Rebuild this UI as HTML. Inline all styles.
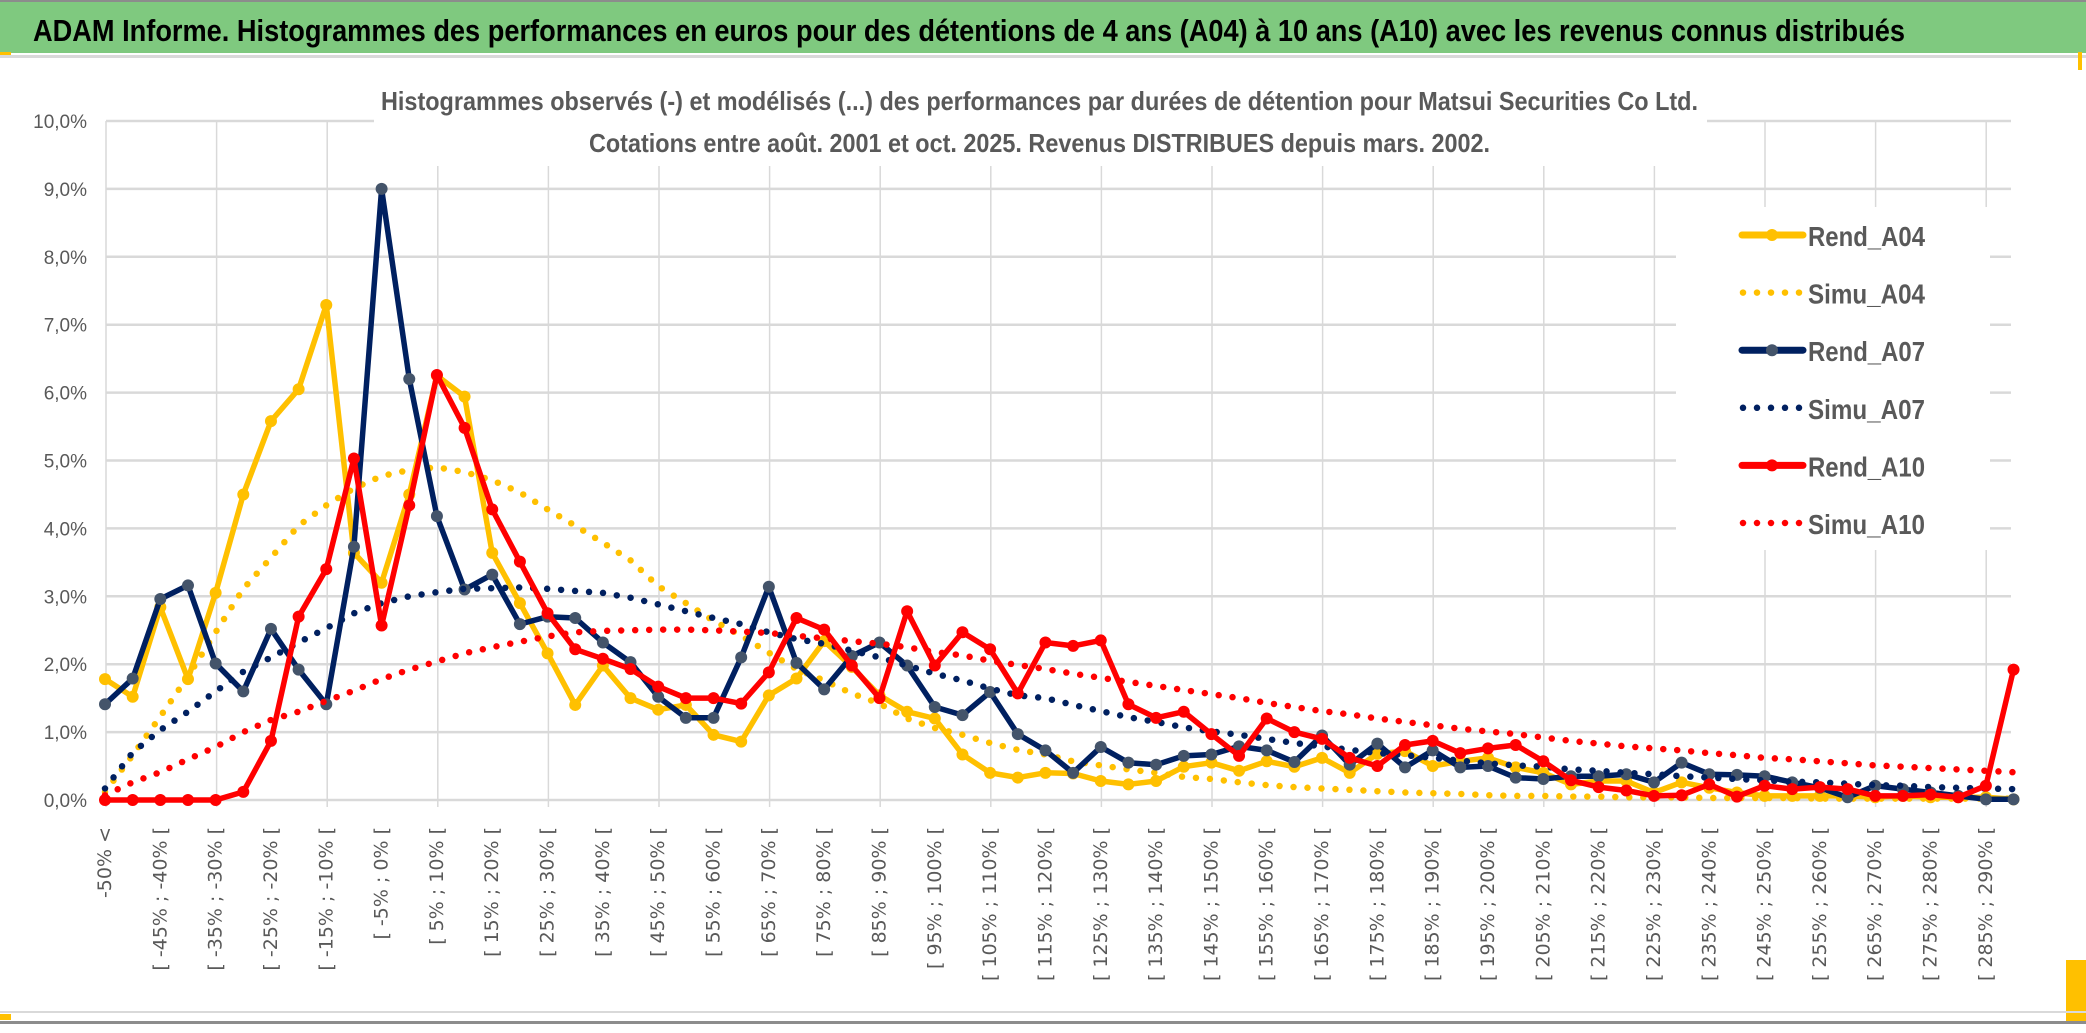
<!DOCTYPE html>
<html><head><meta charset="utf-8"><style>
html,body{margin:0;padding:0;background:#fff;}
svg{display:block;}
</style></head><body>
<svg id="chart" width="2086" height="1033" viewBox="0 0 2086 1033" xmlns="http://www.w3.org/2000/svg">
<rect x="0" y="0" width="2086" height="1033" fill="#fff"/>
<rect x="0" y="0" width="2086" height="2" fill="#8c8c8c"/>
<rect x="0" y="2" width="2086" height="51" fill="#7fc97f"/>
<rect x="0" y="55" width="2086" height="3" fill="#d9d9d9"/>
<rect x="0" y="52" width="11" height="3" fill="#ffc000"/>
<rect x="2078" y="52" width="4" height="18" fill="#ffc000"/>
<rect x="2066" y="960" width="20" height="62" fill="#ffc000"/>
<rect x="0" y="1014" width="11" height="6" fill="#ffc000"/>
<rect x="0" y="1011" width="2086" height="2" fill="#d9d9d9"/>
<rect x="0" y="1021" width="2086" height="3" fill="#8c8c8c"/>
<text x="33" y="41" font-family="Liberation Sans, sans-serif" font-weight="bold" font-size="31" fill="#000" textLength="1872" lengthAdjust="spacingAndGlyphs">ADAM Informe. Histogrammes des performances en euros pour des détentions de 4 ans (A04) à 10 ans (A10) avec les revenus connus distribués</text>
<g id="grid"></g>
<rect x="374" y="78" width="1333" height="88" fill="#fff"/>
<text x="381" y="110" font-family="Liberation Sans, sans-serif" font-weight="bold" font-size="26" fill="#595959" textLength="1317" lengthAdjust="spacingAndGlyphs">Histogrammes observés (-) et modélisés (...) des performances par durées de détention pour Matsui Securities Co Ltd.</text>
<text x="589" y="152" font-family="Liberation Sans, sans-serif" font-weight="bold" font-size="26" fill="#595959" textLength="901" lengthAdjust="spacingAndGlyphs">Cotations entre août. 2001 et oct. 2025. Revenus DISTRIBUES depuis mars. 2002.</text>
<g id="yaxis"></g>
<g id="xaxis"></g>
<g id="series"></g>
<g id="legend"></g>
</svg>
<script>
const categories = ["-50% <","[ -50% ; -45% [","[ -45% ; -40% [","[ -40% ; -35% [","[ -35% ; -30% [","[ -30% ; -25% [","[ -25% ; -20% [","[ -20% ; -15% [","[ -15% ; -10% [","[ -10% ; -5% [","[ -5% ; 0% [","[ 0% ; 5% [","[ 5% ; 10% [","[ 10% ; 15% [","[ 15% ; 20% [","[ 20% ; 25% [","[ 25% ; 30% [","[ 30% ; 35% [","[ 35% ; 40% [","[ 40% ; 45% [","[ 45% ; 50% [","[ 50% ; 55% [","[ 55% ; 60% [","[ 60% ; 65% [","[ 65% ; 70% [","[ 70% ; 75% [","[ 75% ; 80% [","[ 80% ; 85% [","[ 85% ; 90% [","[ 90% ; 95% [","[ 95% ; 100% [","[ 100% ; 105% [","[ 105% ; 110% [","[ 110% ; 115% [","[ 115% ; 120% [","[ 120% ; 125% [","[ 125% ; 130% [","[ 130% ; 135% [","[ 135% ; 140% [","[ 140% ; 145% [","[ 145% ; 150% [","[ 150% ; 155% [","[ 155% ; 160% [","[ 160% ; 165% [","[ 165% ; 170% [","[ 170% ; 175% [","[ 175% ; 180% [","[ 180% ; 185% [","[ 185% ; 190% [","[ 190% ; 195% [","[ 195% ; 200% [","[ 200% ; 205% [","[ 205% ; 210% [","[ 210% ; 215% [","[ 215% ; 220% [","[ 220% ; 225% [","[ 225% ; 230% [","[ 230% ; 235% [","[ 235% ; 240% [","[ 240% ; 245% [","[ 245% ; 250% [","[ 250% ; 255% [","[ 255% ; 260% [","[ 260% ; 265% [","[ 265% ; 270% [","[ 270% ; 275% [","[ 275% ; 280% [","[ 280% ; 285% [","[ 285% ; 290% [","> 290%"];
const yTicks = [0,1,2,3,4,5,6,7,8,9,10];
const yTickLabels = ["0,0%","1,0%","2,0%","3,0%","4,0%","5,0%","6,0%","7,0%","8,0%","9,0%","10,0%"];
const rendA04 = [1.78,1.52,2.84,1.78,3.05,4.5,5.58,6.05,7.29,3.64,3.2,4.5,6.25,5.94,3.64,2.9,2.16,1.4,1.98,1.5,1.33,1.4,0.96,0.86,1.54,1.79,2.34,1.96,1.54,1.3,1.2,0.67,0.4,0.33,0.4,0.39,0.28,0.23,0.28,0.49,0.55,0.43,0.57,0.49,0.62,0.4,0.68,0.72,0.5,0.57,0.62,0.48,0.4,0.23,0.28,0.28,0.11,0.26,0.18,0.11,0.06,0.06,0.06,0.06,0.04,0.06,0.04,0.04,0.04,0.01];
const simuA04 = [0.12,0.66,1.23,1.82,2.47,3.11,3.57,4.04,4.34,4.59,4.77,4.86,4.9,4.83,4.71,4.53,4.28,4.04,3.79,3.53,3.15,2.9,2.64,2.42,2.17,1.93,1.76,1.57,1.42,1.2,1.06,0.96,0.84,0.74,0.67,0.57,0.51,0.45,0.4,0.34,0.31,0.26,0.22,0.19,0.17,0.15,0.13,0.11,0.1,0.09,0.07,0.06,0.06,0.05,0.05,0.04,0.04,0.04,0.03,0.03,0.03,0.03,0.02,0.02,0.02,0.02,0.02,0.02,0.02,0.02];
const rendA07 = [1.41,1.79,2.96,3.16,2.01,1.6,2.52,1.92,1.41,3.73,9.0,6.2,4.18,3.1,3.32,2.59,2.7,2.68,2.32,2.03,1.52,1.21,1.21,2.1,3.14,2.02,1.63,2.12,2.32,1.98,1.37,1.25,1.59,0.97,0.73,0.4,0.78,0.55,0.52,0.65,0.67,0.79,0.73,0.56,0.95,0.52,0.83,0.48,0.73,0.48,0.5,0.33,0.31,0.35,0.35,0.38,0.26,0.55,0.38,0.37,0.35,0.26,0.18,0.04,0.21,0.16,0.11,0.06,0.01,0.01];
const simuA07 = [0.17,0.7,1.03,1.3,1.6,1.89,2.1,2.32,2.53,2.75,2.9,3.0,3.06,3.11,3.12,3.13,3.11,3.08,3.05,2.98,2.88,2.78,2.68,2.59,2.47,2.37,2.3,2.2,2.1,1.98,1.86,1.76,1.64,1.54,1.5,1.4,1.31,1.22,1.15,1.07,1.01,0.96,0.9,0.84,0.79,0.74,0.69,0.66,0.62,0.58,0.54,0.51,0.49,0.45,0.43,0.4,0.38,0.35,0.33,0.31,0.29,0.27,0.26,0.24,0.22,0.21,0.19,0.18,0.17,0.16];
const rendA10 = [0,0,0,0,0,0.12,0.87,2.7,3.4,5.03,2.57,4.34,6.26,5.48,4.28,3.51,2.75,2.22,2.08,1.93,1.67,1.5,1.5,1.42,1.88,2.68,2.51,1.98,1.5,2.78,1.98,2.47,2.22,1.57,2.32,2.27,2.35,1.41,1.21,1.3,0.97,0.65,1.2,1.0,0.9,0.62,0.5,0.81,0.87,0.69,0.76,0.81,0.57,0.29,0.19,0.14,0.06,0.07,0.23,0.05,0.21,0.16,0.19,0.16,0.06,0.06,0.08,0.04,0.21,1.92];
const simuA10 = [0.07,0.26,0.41,0.6,0.78,1.0,1.18,1.3,1.46,1.61,1.78,1.92,2.04,2.16,2.25,2.33,2.41,2.47,2.49,2.5,2.51,2.51,2.5,2.48,2.46,2.42,2.38,2.34,2.3,2.25,2.18,2.13,2.05,1.99,1.93,1.86,1.8,1.74,1.68,1.62,1.56,1.5,1.43,1.37,1.31,1.26,1.2,1.15,1.1,1.05,1.01,0.97,0.92,0.87,0.83,0.79,0.76,0.73,0.69,0.66,0.62,0.6,0.57,0.54,0.51,0.49,0.47,0.45,0.43,0.41];

const NS = "http://www.w3.org/2000/svg";
const X0 = 105, STEP = 27.66, Y0 = 800, YPX = 67.9, PLOT_RIGHT = 2011, PLOT_TOP = 121;
function xPos(i){ return X0 + i*STEP; }
function yPos(v){ return Y0 - v*YPX; }
function mk(tag, attrs, parent){ const e=document.createElementNS(NS,tag); for(const k in attrs) e.setAttribute(k, attrs[k]); parent.appendChild(e); return e; }

const grid = document.getElementById('grid');
for (let k=0; k*4 < categories.length; k++){
  const x = 106 + k*110.6;
  const l = mk('line',{x1:x,y1:PLOT_TOP,x2:x,y2:Y0+7,stroke:'#d9d9d9','stroke-width':1.5},grid);
  
  
}
const yaxis = document.getElementById('yaxis');
yTicks.forEach((t,i)=>{
  const l = mk('line',{x1:106,y1:yPos(t),x2:PLOT_RIGHT,y2:yPos(t),stroke:'#d9d9d9','stroke-width':2.5},grid);
  
  
  const tx = mk('text',{x:87,y:yPos(t)+7,'text-anchor':'end','font-family':'Liberation Sans, sans-serif','font-size':19,fill:'#595959'},yaxis);
  tx.textContent = yTickLabels[i];
  
  
});
const xaxis = document.getElementById('xaxis');
categories.forEach((c,i)=>{
  if (i%2!==0) return;
  const x = xPos(i)+6, y = 827;
  const tx = mk('text',{x:x,y:y,transform:`rotate(-90 ${x} ${y})`,'text-anchor':'end','font-family':'DejaVu Sans, sans-serif','font-size':19,fill:'#595959'},xaxis);
  tx.textContent = c;
  
  
});

const seriesG = document.getElementById('series');
function drawRend(vals, color, marker, name){
  const g = mk('g',{},seriesG);
  
  
  const pts = vals.map((v,i)=>xPos(i).toFixed(1)+','+yPos(v).toFixed(1)).join(' ');
  const pl = mk('polyline',{points:pts,fill:'none',stroke:color,'stroke-width':5.5,'stroke-linejoin':'round'},g);
  
  
  vals.forEach((v,i)=>{
    const c = mk('circle',{cx:xPos(i),cy:yPos(v),r:6,fill:marker},g);
    
    
  });
}
function drawSimu(vals, color, name){
  const pts = vals.map((v,i)=>xPos(i).toFixed(1)+','+yPos(v).toFixed(1)).join(' ');
  const pl = mk('polyline',{points:pts,fill:'none',stroke:color,'stroke-width':6.5,'stroke-linecap':'round','stroke-dasharray':'0 14'},seriesG);
  
  
}
drawRend(rendA04,'#ffc000','#ffc000','rend-a04');
drawSimu(simuA04,'#ffc000','simu-a04');
drawRend(rendA07,'#002060','#44546a','rend-a07');
drawSimu(simuA07,'#002060','simu-a07');
drawRend(rendA10,'#ff0000','#ff0000','rend-a10');
drawSimu(simuA10,'#ff0000','simu-a10');

const legend = document.getElementById('legend');
const lbg = mk('rect',{x:1676,y:207,width:314,height:343,fill:'#fff'},legend);


const legendNames = ["Rend_A04","Simu_A04","Rend_A07","Simu_A07","Rend_A10","Simu_A10"];
const legendColors = ['#ffc000','#ffc000','#002060','#002060','#ff0000','#ff0000'];
const legendMarkers = ['#ffc000',null,'#44546a',null,'#ff0000',null];
legendNames.forEach((n,i)=>{
  const cy = 235 + i*57.6;
  const g = mk('g',{},legend);
  
  
  if (legendMarkers[i]){
    mk('line',{x1:1742,y1:cy,x2:1803,y2:cy,stroke:legendColors[i],'stroke-width':7,'stroke-linecap':'round'},g);
    mk('circle',{cx:1772,cy:cy,r:6,fill:legendMarkers[i]},g);
  } else {
    mk('line',{x1:1743,y1:cy,x2:1800,y2:cy,stroke:legendColors[i],'stroke-width':6.5,'stroke-linecap':'round','stroke-dasharray':'0 14'},g);
  }
  const t = mk('text',{x:1808,y:cy+11,'font-family':'Liberation Sans, sans-serif','font-weight':'bold','font-size':28,fill:'#595959',textLength:117,lengthAdjust:'spacingAndGlyphs'},g);
  t.textContent = n;
});
</script>
</body></html>
